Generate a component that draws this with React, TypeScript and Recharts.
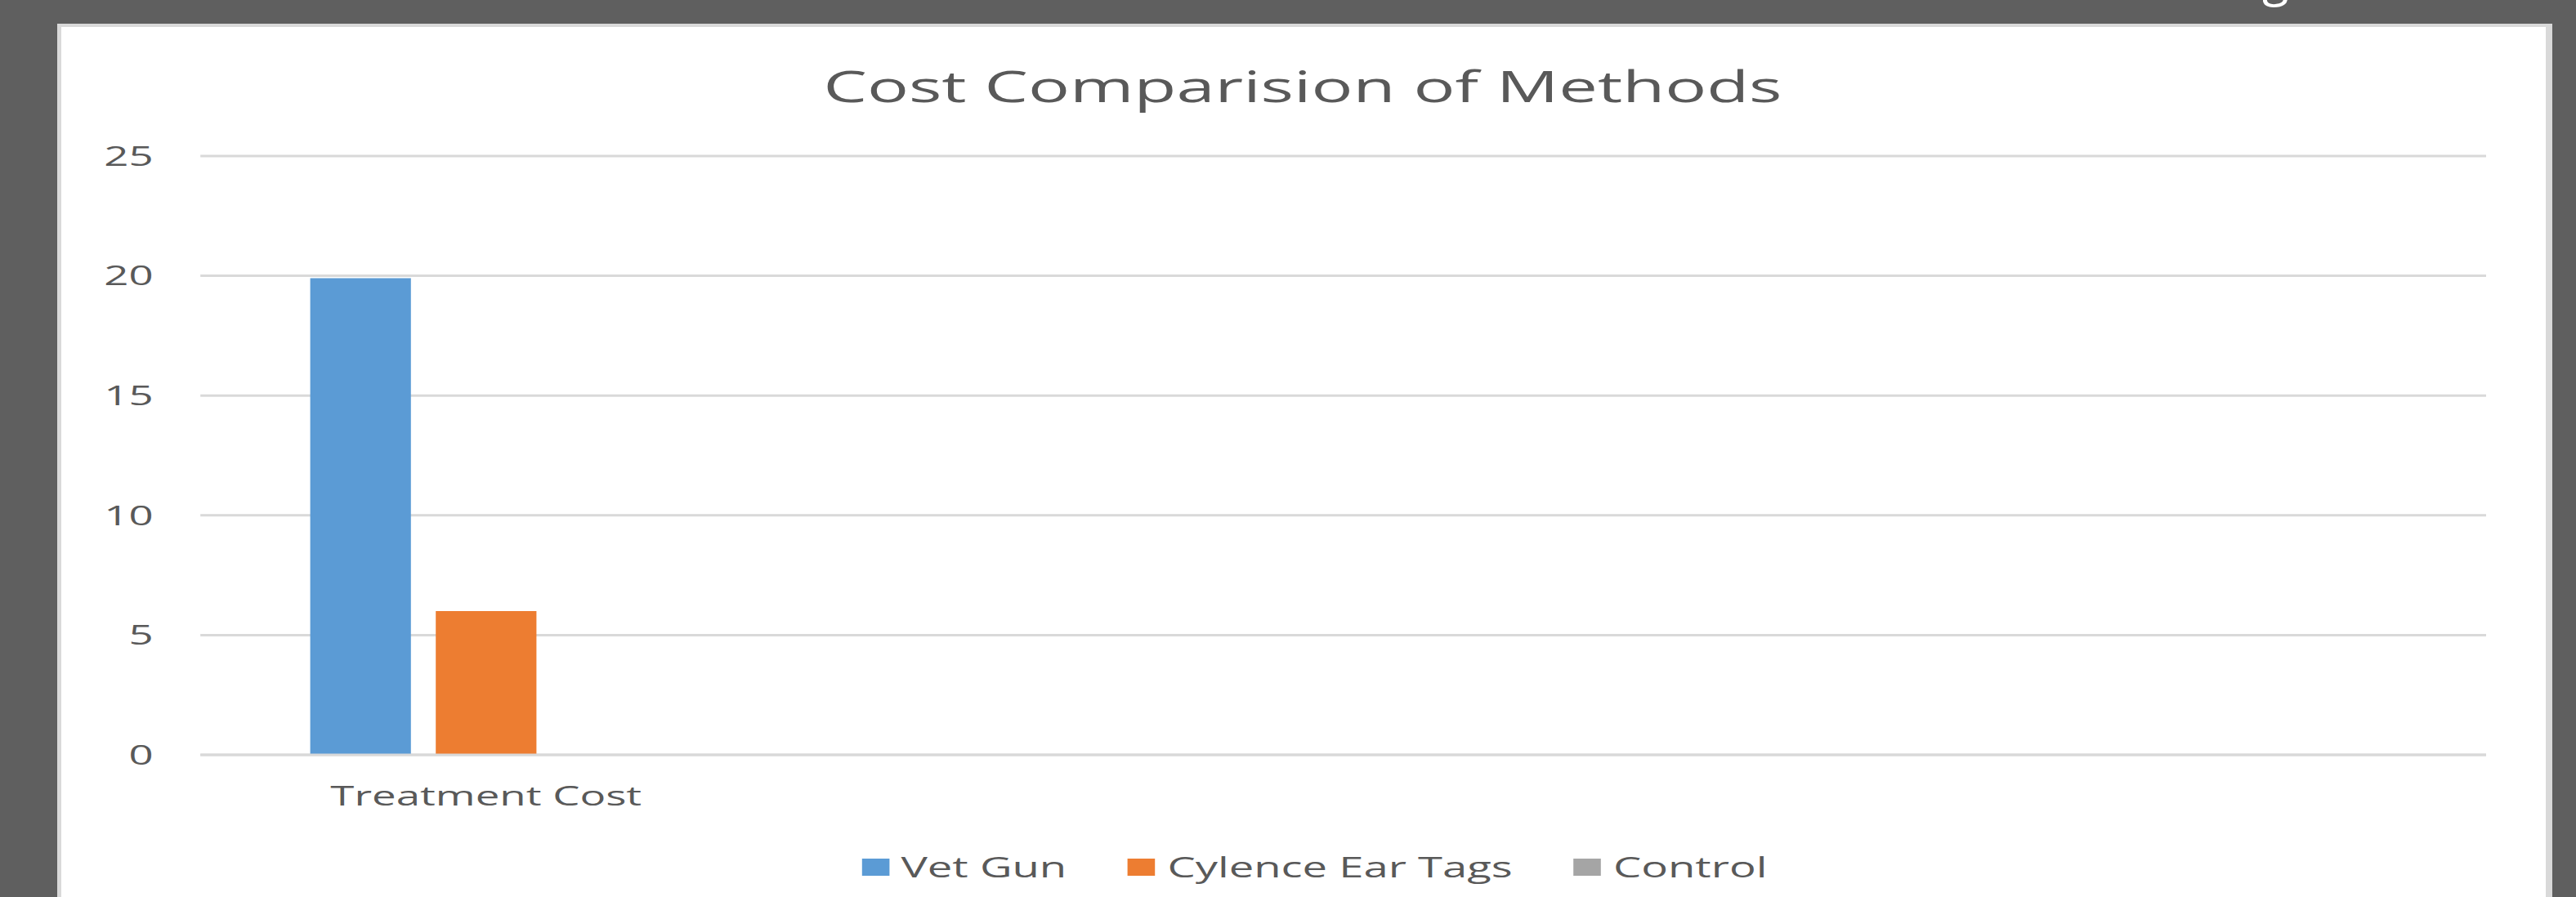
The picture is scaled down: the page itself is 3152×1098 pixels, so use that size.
import React from 'react'
import { BarChart, Bar, XAxis, YAxis, CartesianGrid, Legend } from 'recharts'

const categories = ['Treatment Cost', '', '', '']
const vetGun = [19.9, null, null, null]
const cylenceEarTags = [6, null, null, null]
const control = [0, null, null, null]
const yTicks = [0, 5, 10, 15, 20, 25]

const series = [
  { key: 'vetGun', name: 'Vet Gun', color: '#5b9bd5' },
  { key: 'cylence', name: 'Cylence Ear Tags', color: '#ed7d31' },
  { key: 'control', name: 'Control', color: '#a5a5a5' }
]

const data = categories.map((c, i) => ({
  category: c,
  vetGun: vetGun[i],
  cylence: cylenceEarTags[i],
  control: control[i]
}))

// the source picture is stretched sideways, so the chart is drawn narrow and widened
const STRETCH = 1.6
const W = 1900
const H = 1065
const FONT = '"Open Sans", sans-serif'
const TEXT = '#595959'
const GRID = '#d9d9d9'

function LegendRow({ payload }: any) {
  const order = series.map(s => s.name)
  const items = [...(payload || [])].sort((a: any, b: any) => order.indexOf(a.value) - order.indexOf(b.value))
  return (
    <div
      style={{
        display: 'flex',
        justifyContent: 'center',
        alignItems: 'center',
        gap: 47,
        height: 40,
        paddingLeft: 63,
        fontFamily: FONT,
        fontSize: 34,
        color: TEXT
      }}
    >
      {items.map((p: any) => (
        <div key={p.value} style={{ display: 'flex', alignItems: 'center' }}>
          <span style={{ display: 'inline-block', width: 21, height: 21, background: p.color, marginRight: 9 }} />
          <span style={{ lineHeight: '40px' }}>{p.value}</span>
        </div>
      ))}
    </div>
  )
}

export default function App() {
  return (
    <div style={{ position: 'absolute', left: 0, top: 0, width: 3152, height: 1098, background: '#5f5f5f', overflow: 'hidden' }}>
      <div
        style={{
          position: 'absolute',
          left: 2768,
          top: -58,
          fontFamily: FONT,
          fontSize: 60,
          lineHeight: '60px',
          color: '#ffffff'
        }}
      >
        g
      </div>
      <div
        style={{
          position: 'absolute',
          left: 70,
          top: 29,
          width: 3053,
          height: 1069,
          boxSizing: 'border-box',
          background: '#ffffff',
          borderLeft: `5px solid ${GRID}`,
          borderTop: `4px solid ${GRID}`,
          borderRight: `8px solid ${GRID}`
        }}
      />
      <div
        style={{
          position: 'absolute',
          left: 74,
          top: 33,
          width: W,
          height: H,
          transform: `scaleX(${STRETCH})`,
          transformOrigin: '0 0'
        }}
      >
        <div
          style={{
            position: 'absolute',
            left: 0,
            top: 45,
            width: W,
            textAlign: 'center',
            fontFamily: FONT,
            fontSize: 53,
            lineHeight: '53px',
            color: TEXT
          }}
        >
          Cost Comparision of Methods
        </div>
        <BarChart
          width={W}
          height={H}
          data={data}
          margin={{ top: 158, right: 45, left: 0, bottom: 17 }}
          barCategoryGap={84}
          barGap={19}
        >
          <CartesianGrid vertical={false} stroke={GRID} strokeWidth={3} />
          <XAxis
            dataKey="category"
            height={117}
            interval={0}
            tickLine={false}
            tickSize={0}
            tickMargin={39}
            axisLine={{ stroke: GRID, strokeWidth: 3 }}
            tick={{ fill: TEXT, fontSize: 33, fontFamily: FONT }}
          />
          <YAxis
            width={107}
            domain={[0, 25]}
            ticks={yTicks}
            interval={0}
            axisLine={false}
            tickLine={false}
            tickSize={0}
            tickMargin={36}
            tick={{ fill: TEXT, fontSize: 33, fontFamily: FONT }}
          />
          <Legend verticalAlign="bottom" content={<LegendRow />} />
          {series.map(s => (
            <Bar key={s.key} dataKey={s.key} name={s.name} fill={s.color} isAnimationActive={false} />
          ))}
        </BarChart>
      </div>
    </div>
  )
}
